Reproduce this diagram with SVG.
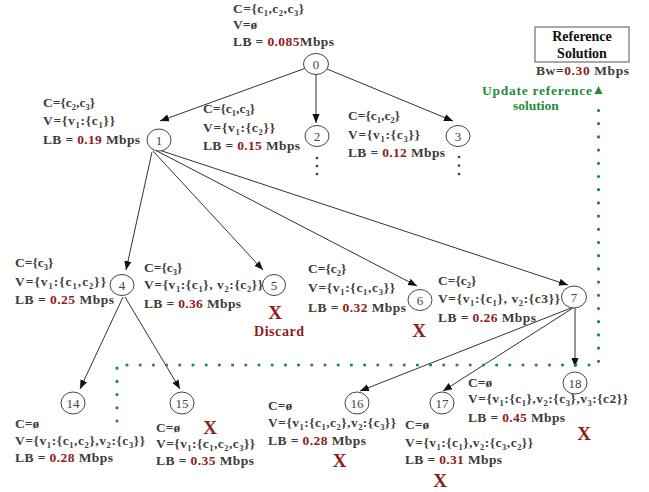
<svg xmlns="http://www.w3.org/2000/svg" width="649" height="492" viewBox="0 0 649 492">
<style>
.t{font-family:"Liberation Serif",serif;font-size:13.5px;font-weight:bold;fill:#3c3c3c}
.r{fill:#8f1c1c}
.s{font-size:8.5px;baseline-shift:-3px}
.n{font-family:"Liberation Serif",serif;font-size:13px;fill:#444;text-anchor:middle}
.c{fill:#fff;stroke:#444;stroke-width:1}
.e{stroke:#333;stroke-width:1;fill:none;marker-end:url(#a)}
.x{font-family:"Liberation Serif",serif;font-size:19px;font-weight:bold;fill:#8f1c1c;text-anchor:middle}
.g{font-family:"Liberation Serif",serif;font-size:13.5px;font-weight:bold;fill:#1e8c3c}
.d{stroke:#1e8c3c;stroke-width:3.2;stroke-linecap:round;stroke-dasharray:0 13.2;fill:none}
</style>
<defs>
<marker id="a" viewBox="0 0 10 10" refX="10" refY="5" markerWidth="9" markerHeight="9" markerUnits="userSpaceOnUse" orient="auto">
<path d="M0,1 L10,5 L0,9 z" fill="#111"/>
</marker>
</defs>
<rect width="649" height="492" fill="#fff"/>

<g id="connectors">
<path class="e" d="M306,68 L160,121"/>
<path class="e" d="M316,74.5 L316,123"/>
<path class="e" d="M327,69 L453,121"/>
<path class="e" d="M152,152 L126,270"/>
<path class="e" d="M153,151 L263,270"/>
<path class="e" d="M155,150 L417,286"/>
<path class="e" d="M156,149 L568,285"/>
<path class="e" d="M123,297 L80,389"/>
<path class="e" d="M125,297 L180,389"/>
<path class="e" d="M571,308 L360,391"/>
<path class="e" d="M573,308 L443,391"/>
<path class="e" d="M575,308 L575,367"/>
<path class="d" d="M117,421 V365 H598.5 V100"/>
<polygon points="598.5,86 594.5,94 602.5,94" fill="#1e8c3c"/>
<g fill="#3c3c3c">
<circle cx="317" cy="158" r="1.3"/><circle cx="317" cy="166" r="1.3"/><circle cx="317" cy="174" r="1.3"/>
<circle cx="459" cy="157" r="1.3"/><circle cx="459" cy="165.5" r="1.3"/><circle cx="459" cy="174" r="1.3"/>
</g>
</g>

<g id="ref">
<rect x="535" y="27" width="94" height="35" fill="#fff" stroke="#555" stroke-width="1"/>
<text x="582" y="41" text-anchor="middle" style="font-family:'Liberation Serif',serif;font-size:14px;font-weight:bold;fill:#111">Reference</text>
<text x="582" y="57.5" text-anchor="middle" style="font-family:'Liberation Serif',serif;font-size:14px;font-weight:bold;fill:#111">Solution</text>
<text class="t" x="536" y="75" textLength="93" lengthAdjust="spacing">Bw=<tspan class="r">0.30</tspan> Mbps</text>
<text class="g" x="482" y="94.5" textLength="110" lengthAdjust="spacing">Update reference</text>
<text class="g" x="536" y="110" text-anchor="middle">solution</text>
</g>

<g id="n0">
<ellipse class="c" cx="316" cy="64" rx="12.5" ry="10.5"/>
<text class="n" x="316" y="68.5">0</text>
<text class="t" x="233" y="13" textLength="71" lengthAdjust="spacing">C={c<tspan class="s">1</tspan>,c<tspan class="s">2</tspan>,c<tspan class="s">3</tspan>}</text>
<text class="t" x="233" y="29">V=ø</text>
<text class="t" x="233" y="46" textLength="101" lengthAdjust="spacing">LB = <tspan class="r">0.085</tspan>Mbps</text>
</g>

<g id="n1">
<ellipse class="c" cx="159" cy="140" rx="12" ry="11"/>
<text class="n" x="159" y="144.5">1</text>
<text class="t" x="43" y="107">C={c<tspan class="s">2</tspan>,c<tspan class="s">3</tspan>}</text>
<text class="t" x="43" y="125" textLength="72" lengthAdjust="spacing">V={v<tspan class="s">1</tspan>:{c<tspan class="s">1</tspan>}}</text>
<text class="t" x="43" y="144" textLength="97" lengthAdjust="spacing">LB = <tspan class="r">0.19</tspan> Mbps</text>
</g>

<g id="n2">
<ellipse class="c" cx="317" cy="136" rx="12" ry="10.5"/>
<text class="n" x="317" y="140.5">2</text>
<text class="t" x="203" y="113">C={c<tspan class="s">1</tspan>,c<tspan class="s">3</tspan>}</text>
<text class="t" x="203" y="131.5" textLength="72" lengthAdjust="spacing">V={v<tspan class="s">1</tspan>:{c<tspan class="s">2</tspan>}}</text>
<text class="t" x="203" y="149.5" textLength="97" lengthAdjust="spacing">LB = <tspan class="r">0.15</tspan> Mbps</text>
</g>

<g id="n3">
<ellipse class="c" cx="458" cy="136" rx="12" ry="10.5"/>
<text class="n" x="458" y="140.5">3</text>
<text class="t" x="348" y="120">C={c<tspan class="s">1</tspan>,c<tspan class="s">2</tspan>}</text>
<text class="t" x="348" y="139" textLength="72" lengthAdjust="spacing">V={v<tspan class="s">1</tspan>:{c<tspan class="s">3</tspan>}}</text>
<text class="t" x="348" y="157" textLength="97" lengthAdjust="spacing">LB = <tspan class="r">0.12</tspan> Mbps</text>
</g>

<g id="n4">
<ellipse class="c" cx="122" cy="285" rx="12" ry="10.5"/>
<text class="n" x="122" y="289.5">4</text>
<text class="t" x="15" y="267">C={c<tspan class="s">3</tspan>}</text>
<text class="t" x="15" y="286" textLength="91" lengthAdjust="spacing">V={v<tspan class="s">1</tspan>:{c<tspan class="s">1</tspan>,c<tspan class="s">2</tspan>}}</text>
<text class="t" x="15" y="304" textLength="99" lengthAdjust="spacing">LB = <tspan class="r">0.25</tspan> Mbps</text>
</g>

<g id="n5">
<ellipse class="c" cx="274" cy="285" rx="11.5" ry="10.5"/>
<text class="n" x="274" y="289.5">5</text>
<text class="t" x="144" y="272">C={c<tspan class="s">3</tspan>}</text>
<text class="t" x="144" y="289" textLength="119" lengthAdjust="spacing">V={v<tspan class="s">1</tspan>:{c<tspan class="s">1</tspan>}, v<tspan class="s">2</tspan>:{c<tspan class="s">2</tspan>}}</text>
<text class="t" x="144" y="308" textLength="97" lengthAdjust="spacing">LB = <tspan class="r">0.36</tspan> Mbps</text>
<text class="x" x="275" y="318.5">X</text>
<text x="279" y="335.5" text-anchor="middle" textLength="50" lengthAdjust="spacing" style="font-family:'Liberation Serif',serif;font-size:14px;font-weight:bold;fill:#8f1c1c">Discard</text>
</g>

<g id="n6">
<ellipse class="c" cx="420" cy="300" rx="12" ry="10.5"/>
<text class="n" x="420" y="304.5">6</text>
<text class="t" x="308" y="273">C={c<tspan class="s">2</tspan>}</text>
<text class="t" x="308" y="292" textLength="87" lengthAdjust="spacing">V={v<tspan class="s">1</tspan>:{c<tspan class="s">1</tspan>,c<tspan class="s">3</tspan>}}</text>
<text class="t" x="308" y="311.5" textLength="98" lengthAdjust="spacing">LB = <tspan class="r">0.32</tspan> Mbps</text>
<text class="x" x="419" y="337">X</text>
</g>

<g id="n7">
<ellipse class="c" cx="574" cy="297" rx="12.5" ry="11"/>
<text class="n" x="574" y="301.5">7</text>
<text class="t" x="438" y="285">C={c<tspan class="s">2</tspan>}</text>
<text class="t" x="438" y="303" textLength="122" lengthAdjust="spacing">V={v<tspan class="s">1</tspan>:{c<tspan class="s">1</tspan>}, v<tspan class="s">2</tspan>:{c3}}</text>
<text class="t" x="438" y="321.5" textLength="98" lengthAdjust="spacing">LB = <tspan class="r">0.26</tspan> Mbps</text>
</g>

<g id="n14">
<ellipse class="c" cx="73" cy="403" rx="12" ry="11"/>
<text class="n" x="73" y="407.5">14</text>
<text class="t" x="15" y="428">C=ø</text>
<text class="t" x="15" y="445" textLength="130" lengthAdjust="spacing">V={v<tspan class="s">1</tspan>:{c<tspan class="s">1</tspan>,c<tspan class="s">2</tspan>},v<tspan class="s">2</tspan>:{c<tspan class="s">3</tspan>}}</text>
<text class="t" x="15" y="462" textLength="98" lengthAdjust="spacing">LB = <tspan class="r">0.28</tspan> Mbps</text>
</g>

<g id="n15">
<ellipse class="c" cx="182" cy="403" rx="12" ry="11"/>
<text class="n" x="182" y="407.5">15</text>
<text class="t" x="156" y="432">C=ø</text>
<text class="t" x="156" y="448" textLength="99" lengthAdjust="spacing">V={v<tspan class="s">1</tspan>:{c<tspan class="s">1</tspan>,c<tspan class="s">2</tspan>,c<tspan class="s">3</tspan>}}</text>
<text class="t" x="156" y="465" textLength="98" lengthAdjust="spacing">LB = <tspan class="r">0.35</tspan> Mbps</text>
<text class="x" x="210" y="434">X</text>
</g>

<g id="n16">
<ellipse class="c" cx="357" cy="403" rx="12" ry="11"/>
<text class="n" x="357" y="407.5">16</text>
<text class="t" x="268" y="410">C=ø</text>
<text class="t" x="268" y="427" textLength="128" lengthAdjust="spacing">V={v<tspan class="s">1</tspan>:{c<tspan class="s">1</tspan>,c<tspan class="s">2</tspan>},v<tspan class="s">2</tspan>:{c<tspan class="s">3</tspan>}}</text>
<text class="t" x="268" y="445" textLength="98" lengthAdjust="spacing">LB = <tspan class="r">0.28</tspan> Mbps</text>
<text class="x" x="339.5" y="467">X</text>
</g>

<g id="n17">
<ellipse class="c" cx="442" cy="403" rx="12" ry="11"/>
<text class="n" x="442" y="407.5">17</text>
<text class="t" x="405" y="429">C=ø</text>
<text class="t" x="405" y="447" textLength="128" lengthAdjust="spacing">V={v<tspan class="s">1</tspan>:{c<tspan class="s">1</tspan>},v<tspan class="s">2</tspan>:{c<tspan class="s">3</tspan>,c<tspan class="s">2</tspan>}}</text>
<text class="t" x="405" y="464" textLength="97" lengthAdjust="spacing">LB = <tspan class="r">0.31</tspan> Mbps</text>
<text class="x" x="440" y="487">X</text>
</g>

<g id="n18">
<ellipse class="c" cx="575" cy="383" rx="12" ry="11"/>
<text class="n" x="575" y="387.5">18</text>
<text class="t" x="468" y="387">C=ø</text>
<text class="t" x="468" y="403" textLength="160" lengthAdjust="spacing">V={v<tspan class="s">1</tspan>:{c<tspan class="s">1</tspan>},v<tspan class="s">2</tspan>:{c<tspan class="s">3</tspan>},v<tspan class="s">3</tspan>:{c2}}</text>
<text class="t" x="468" y="422" textLength="97" lengthAdjust="spacing">LB = <tspan class="r">0.45</tspan> Mbps</text>
<text class="x" x="584" y="440">X</text>
</g>
</svg>
